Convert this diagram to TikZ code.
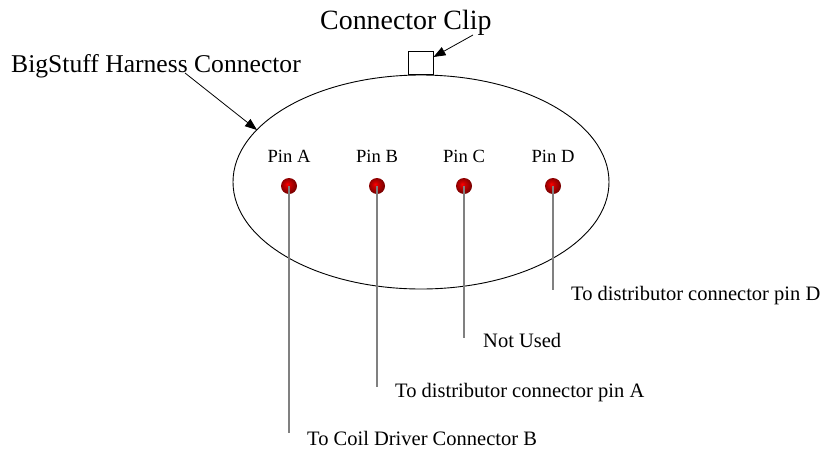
\documentclass[tikz,border=0pt]{standalone}
\usepackage{fontspec}
\setmainfont{Liberation Serif}
\usetikzlibrary{arrows.meta,shapes.geometric}
\pgfdeclareradialshading{pinshade}{\pgfpoint{-6bp}{6bp}}{%
  color(0bp)=(red);
  color(8bp)=(red!80!black);
  color(22bp)=(red!55!black);
  color(38bp)=(red!25!black);
  color(50bp)=(black)}
\tikzset{
  lbl/.style={inner sep=0pt, anchor=base west},
  pinball/.style={circle, minimum size=16pt, inner sep=0pt, shading=pinshade},
  wire/.style={draw=black!50, line width=1.6pt},
  pointer/.style={draw=black, line width=0.8pt, -{Triangle[length=12pt,width=9pt]}},
}
\begin{document}
\begin{tikzpicture}[x=1pt,y=-1pt]
\useasboundingbox (0,0) rectangle (834,450);
% housing
\node[draw, line width=0.9pt, ellipse, minimum width=376pt, minimum height=214pt, inner sep=0pt] (housing) at (421,182) {};
\node[draw, line width=0.9pt, minimum width=25pt, minimum height=23pt, inner sep=0pt, anchor=south west] (clip) at (408,75) {};
% titles
\node[lbl, font=\fontsize{27.9}{30}\selectfont] (cliplbl) at (320,29) {Connector Clip};
\node[lbl, font=\fontsize{25.6}{28}\selectfont] (harnlbl) at (11,72) {BigStuff Harness Connector};
\coordinate (clipA) at (473,35);
\coordinate (clipT) at (433.5,57);
\coordinate (harA) at (185,73);
\coordinate (harT) at (257,130);
\draw[pointer] (clipA) -- (clipT);
\draw[pointer] (harA) -- (harT);
% pins
\foreach \n/\x/\e in {A/289/433, B/377/387, C/464/338, D/553/290}{
  \coordinate (end\n) at (\x,\e);
  \node[pinball] (pin\n) at (\x,186) {};
  \node[font=\fontsize{18.6}{20}\selectfont, inner sep=0pt, anchor=base] (pl\n) at (\x,162) {Pin \n};
}
\foreach \n in {A,B,C,D}{
  \draw[wire] (pin\n.center) -- (end\n);
}
\node[lbl, font=\fontsize{20.5}{22}\selectfont] (tA) at (307,445) {To Coil Driver Connector B};
\node[lbl, font=\fontsize{20.5}{22}\selectfont] (tB) at (395,397) {To distributor connector pin A};
\node[lbl, font=\fontsize{20.5}{22}\selectfont] (tC) at (483,347) {Not Used};
\node[lbl, font=\fontsize{20.5}{22}\selectfont] (tD) at (571,300) {To distributor connector pin D};
\end{tikzpicture}
\end{document}
